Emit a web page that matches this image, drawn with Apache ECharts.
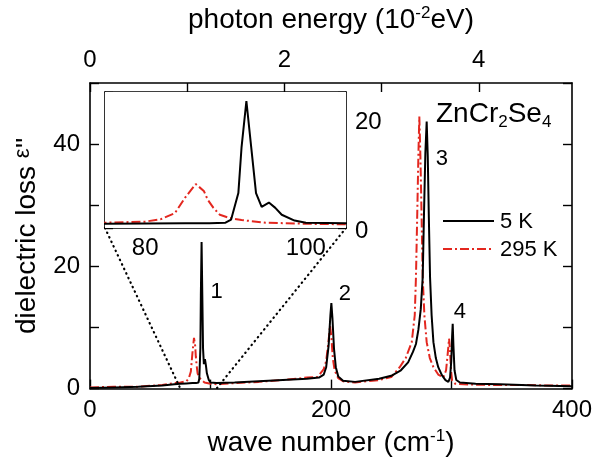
<!DOCTYPE html>
<html><head><meta charset="utf-8">
<script src="https://cdn.jsdelivr.net/npm/echarts@6/dist/echarts.min.js"></script>
<style>html,body{margin:0;padding:0;background:#fff}#c{width:605px;height:462px}</style>
</head><body><div id="c"></div>
<script>
// ---- data ----
const wave5K = [0,20,40,60,70,75,80,85,88,90,90.7,91.6,92.0,92.6,93.2,93.8,94.5,95.4,96.2,97,98.6,100,105,120,140,160,180,190,194,196,198,199.5,200.3,201.2,202.5,204,206,210,220,240,250,258,264,268,270.5,272.5,274.5,276.1,277.2,278.3,279.4,280.3,281.2,282.2,283.5,285,287,289,292,295,297.4,298.8,299.8,300.5,301,301.6,302.5,304,307,320,340,370,400];
const eps5K  = [0.1,0.2,0.3,0.5,0.7,0.8,0.85,0.9,0.9,1.0,1.6,6.6,15.3,24.0,15.3,6.6,4.0,4.8,3.8,2.5,1.4,1.0,0.9,1.0,1.2,1.4,1.6,1.8,2.3,3.5,7.0,12.0,14.0,11.5,6.5,3.5,2.0,1.3,1.1,1.6,2.1,3.0,4.3,6.0,7.3,9.6,13.0,18.2,28.8,38.5,43.7,38.0,28.0,18.2,12.0,7.6,5.0,3.5,2.2,1.4,1.1,1.8,4.5,8.5,10.6,7.0,3.0,1.4,1.0,0.8,0.7,0.5,0.4];
const wave295K = [0,20,40,60,70,75,80,82,83.7,85,86.3,87.3,87.8,88.5,89.3,90.5,92,95,100,105,120,140,160,180,189,194,196,197.8,199.2,200.3,201.5,203,206,210,220,240,250,257,262,267,269.5,270.5,271.6,272.5,273.3,274.2,275.2,276.1,277.5,279.4,282,285,289,293.2,295.5,297,298,298.8,299.6,300.5,303,310,330,360,380,400];
const eps295K  = [0.2,0.3,0.3,0.6,0.9,1.0,1.2,1.7,2.8,5.8,8.3,7.0,5.3,3.8,2.5,1.9,1.5,1.0,0.8,0.7,0.9,1.1,1.4,1.8,1.9,3.2,4.5,7.5,10.3,8.5,5.0,3.0,1.7,1.2,1.0,1.4,1.9,3.5,5.0,7.6,12.0,18.2,28.8,38.0,44.5,38.0,28.0,18.2,12.0,7.6,5.0,3.5,2.3,1.8,3.0,6.0,8.2,6.0,3.0,1.3,0.8,0.7,0.6,0.6,0.5,0.5];
const seriesNames = ['5 K', '295 K'];
const mainXLabels = [0, 200, 400];
const energyLabels = [0, 2, 4];
const mainYLabels = [0, 20, 40];
const insetXTicks = [80, 90, 100];
const insetXLabels = [80, 100];
const insetYLabels = [0, 20];
const peakLabels = ['1', '2', '3', '4'];
const peakLabelPos = [[105, 15.8], [211.5, 15.5], [292, 37.6], [307, 12.6]];
const insetRange = [75, 105];
const cmPerEnergyUnit = 80.655; // 1e-2 eV in cm^-1

const FONT = 'Liberation Sans, Arial, sans-serif';
const zip = (a, b) => a.map((v, i) => [v, b[i]]);
const RED = '#e3271f';
const DASHDOT = [9, 3, 2, 3];

const chart = echarts.init(document.getElementById('c'), null, {renderer: 'canvas'});
const axLine = {show: true, onZero: false, lineStyle: {color: '#000', width: 1.6}};
const tickIn = (len, extra) => Object.assign({show: true, inside: true, length: len, lineStyle: {color: '#000', width: 1.4}}, extra || {});
const lab = (extra) => Object.assign({color: '#000', fontSize: 24, fontFamily: FONT}, extra || {});

const option = {
  animation: false,
  backgroundColor: '#fff',
  grid: [
    {left: 90, right: 33, top: 79, bottom: 67, show: false},
    {left: 105, top: 92, width: 241, height: 136, show: true, backgroundColor: '#fff', borderWidth: 0, z: 5}
  ],
  xAxis: [
    {gridIndex: 0, type: 'value', position: 'bottom', min: 0, max: 400, interval: 100,
     axisLine: axLine, axisTick: tickIn(9), splitLine: {show: false},
     axisLabel: lab({margin: 10, formatter: v => mainXLabels.includes(v) ? String(v) : ''}),
     name: '{t|wave number (cm}{s|-1}{t|)}', nameLocation: 'middle', nameGap: 37,
     nameTextStyle: {rich: {t: {fontSize: 28, fontFamily: FONT, color: '#000'}, s: {fontSize: 17, fontFamily: FONT, color: '#000', padding: [0, 0, 14, 0]}}}},
    {gridIndex: 0, type: 'value', position: 'top', min: 0, max: 400 / cmPerEnergyUnit, interval: 1,
     axisLine: axLine, axisTick: tickIn(9), splitLine: {show: false},
     axisLabel: lab({margin: 11, showMaxLabel: false, formatter: v => energyLabels.includes(v) ? String(v) : ''}),
     name: '{t|photon energy (10}{s|-2}{t|eV)}', nameLocation: 'middle', nameGap: 47,
     nameTextStyle: {rich: {t: {fontSize: 28, fontFamily: FONT, color: '#000'}, s: {fontSize: 17, fontFamily: FONT, color: '#000', padding: [0, 0, 14, 0]}}}},
    {gridIndex: 1, type: 'value', position: 'bottom', min: insetRange[0], max: insetRange[1],
     axisLine: axLine, axisTick: tickIn(8, {customValues: insetXTicks}), splitLine: {show: false},
     axisLabel: lab({margin: 8, customValues: insetXLabels})},
    {gridIndex: 1, type: 'value', position: 'top', min: insetRange[0], max: insetRange[1],
     axisLine: axLine, axisTick: tickIn(8, {customValues: insetXTicks}), splitLine: {show: false},
     axisLabel: {show: false}}
  ],
  yAxis: [
    {gridIndex: 0, type: 'value', position: 'left', min: 0, max: 50, interval: 10,
     axisLine: axLine, axisTick: tickIn(9), splitLine: {show: false},
     axisLabel: lab({margin: 10, formatter: v => mainYLabels.includes(v) ? String(v) : ''}),
     name: "{t|dielectric loss }{e|ε}{t|''}", nameLocation: 'middle', nameGap: 48, nameRotate: 90,
     nameTextStyle: {rich: {t: {fontSize: 28, fontFamily: FONT, color: '#000'}, e: {fontSize: 22, fontFamily: FONT, color: '#000', padding: [0, 0, 8, 0]}}}},
    {gridIndex: 0, type: 'value', position: 'right', min: 0, max: 50, interval: 10,
     axisLine: axLine, axisTick: tickIn(9), splitLine: {show: false}, axisLabel: {show: false}},
    {gridIndex: 1, type: 'value', position: 'left', min: 0, max: 25.7, interval: 10,
     axisLine: axLine, axisTick: tickIn(8), splitLine: {show: false}, axisLabel: {show: false}},
    {gridIndex: 1, type: 'value', position: 'right', min: 0, max: 25.7, interval: 10,
     axisLine: axLine, axisTick: tickIn(8), splitLine: {show: false},
     axisLabel: lab({margin: 9, align: 'left', formatter: v => insetYLabels.includes(v) ? (v === 0 ? '{z|0}' : String(v)) : '',
       rich: {z: {fontSize: 24, fontFamily: FONT, color: '#000', padding: [6, 0, 0, 0]}}})}
  ],
  series: [
    {name: seriesNames[0], type: 'line', xAxisIndex: 0, yAxisIndex: 0, data: zip(wave5K, eps5K), showSymbol: false, z: 3,
     lineStyle: {color: '#000', width: 2}},
    {name: seriesNames[1], type: 'line', xAxisIndex: 0, yAxisIndex: 0, data: zip(wave295K, eps295K), showSymbol: false, z: 2,
     lineStyle: {color: RED, width: 2, type: DASHDOT}},
    {name: seriesNames[0] + ' inset', type: 'line', xAxisIndex: 2, yAxisIndex: 2, data: zip(wave5K, eps5K), showSymbol: false, z: 7,
     lineStyle: {color: '#000', width: 2}},
    {name: seriesNames[1] + ' inset', type: 'line', xAxisIndex: 2, yAxisIndex: 2, data: zip(wave295K, eps295K), showSymbol: false, z: 6,
     lineStyle: {color: RED, width: 2, type: DASHDOT}}
  ]
};
chart.setOption(option);

// annotations positioned through the axes' scales
const mainPx = p => chart.convertToPixel({xAxisIndex: 0, yAxisIndex: 0}, p);
const insetPx = p => chart.convertToPixel({xAxisIndex: 2, yAxisIndex: 2}, p);
const graphics = [];
insetRange.forEach(x => {
  const a = insetPx([x, 0]), b = mainPx([x, 0]);
  graphics.push({type: 'line', z: 4, shape: {x1: a[0], y1: a[1], x2: b[0], y2: b[1]},
    style: {stroke: '#000', lineWidth: 2.2, lineDash: [0.5, 4.5], lineCap: 'round'}});
});
peakLabels.forEach((t, i) => {
  const p = mainPx(peakLabelPos[i]);
  graphics.push({type: 'text', x: p[0], y: p[1], z: 10,
    style: {text: t, fill: '#000', font: '22px ' + FONT, align: 'center', verticalAlign: 'middle'}});
});
// material name
graphics.push({type: 'text', x: 436, y: 98, z: 10,
  style: {text: 'ZnCr{s|2}Se{s|4}', font: '28px ' + FONT, fill: '#000',
    rich: {s: {fontSize: 17, fontFamily: FONT, fill: '#000', padding: [16, 0, 0, 0]}}}});
// legend
graphics.push({type: 'line', z: 10, shape: {x1: 443, y1: 221, x2: 494, y2: 221}, style: {stroke: '#000', lineWidth: 2}});
graphics.push({type: 'line', z: 10, shape: {x1: 443, y1: 249, x2: 494, y2: 249}, style: {stroke: RED, lineWidth: 2, lineDash: DASHDOT}});
graphics.push({type: 'text', x: 500, y: 222, z: 10, style: {text: seriesNames[0], font: '22px ' + FONT, fill: '#000', verticalAlign: 'middle'}});
graphics.push({type: 'text', x: 500, y: 250, z: 10, style: {text: seriesNames[1], font: '22px ' + FONT, fill: '#000', verticalAlign: 'middle'}});
chart.setOption({graphic: graphics});
</script></body></html>
